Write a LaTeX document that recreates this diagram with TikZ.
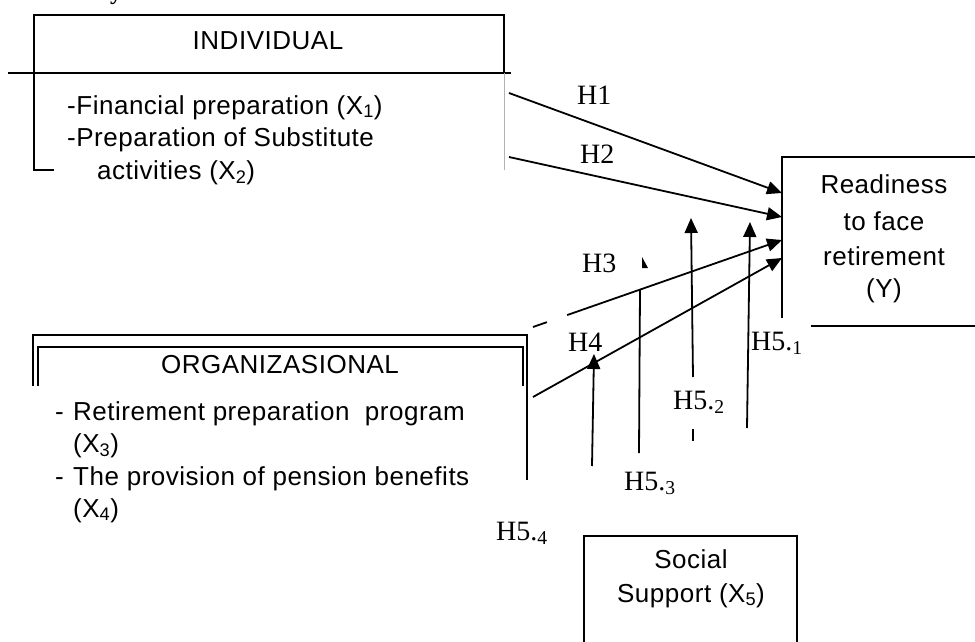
\documentclass[tikz,border=0pt]{standalone}
\usepackage{fontspec}
\setmainfont{Liberation Serif}
\newfontfamily\boxfont[LetterSpace=2]{Liberation Sans}
\usetikzlibrary{arrows.meta,calc}
\tikzset{
  frame/.style   = {line width=2pt, line cap=rect},
  boxtxt/.style  = {font=\boxfont\fontsize{26}{30}\selectfont, inner sep=0pt, anchor=base west},
  boxhead/.style = {font=\boxfont\fontsize{26}{30}\selectfont, inner sep=0pt, anchor=base},
  hyp/.style     = {font=\fontsize{28}{32}\selectfont, inner sep=0pt, anchor=base west},
  link/.style    = {-{Triangle[length=15pt,width=13pt]}, line width=1.8pt},
  plain/.style   = {line width=1.8pt},
}

\begin{document}
\begin{tikzpicture}[x=1pt, y=-1pt]
  \useasboundingbox (0,0) rectangle (975,642);
  \node[inner sep=0pt, anchor=base, font=\bfseries\fontsize{24}{28}\selectfont] (frag) at (116,0) {y};
  \draw[frame] (53,170) -- (34,170) -- (34,15) -- (504,15) -- (504,73);
  \draw[frame] (9,73) -- (510,73);
  \draw[gray!60, line width=0.8pt] (504,73) -- (504,170);
  \node[boxhead] (indhead) at (268,50) {INDIVIDUAL};
  \node[boxtxt] (ind1) at (67,114) {-Financial preparation (X\textsubscript{1})};
  \node[boxtxt] (ind2) at (67,146) {-Preparation of Substitute};
  \node[boxtxt] (ind3) at (97,179) {activities (X\textsubscript{2})};
  \draw[frame] (33,385) -- (33,335) -- (527,335) -- (527,479);
  \draw[frame] (38,385) -- (38,347) -- (523,347) -- (523,385);
  \node[boxhead] (orghead) at (280,373) {ORGANIZASIONAL};
  \node[boxtxt] (org1) at (55,420) {\makebox[18pt][l]{-}Retirement preparation\ \ program};
  \node[boxtxt] (org2) at (73,452) {(X\textsubscript{3})};
  \node[boxtxt] (org3) at (55,485) {\makebox[18pt][l]{-}The provision of pension benefits};
  \node[boxtxt] (org4) at (73,517) {(X\textsubscript{4})};
  \draw[frame] (975,157) -- (782,157) -- (782,317);
  \draw[frame] (812,326) -- (975,326);
  \node[boxhead] (y1) at (884,193) {Readiness};
  \node[boxhead] (y2) at (884,230) {to face};
  \node[boxhead] (y3) at (884,265) {retirement};
  \node[boxhead] (y4) at (884,297) {(Y)};
  \draw[frame] (584,642) -- (584,536) -- (797,536) -- (797,642);
  \node[boxhead] (soc1) at (691,568) {Social};
  \node[boxhead] (soc2) at (691,602) {Support (X\textsubscript{5})};
  \coordinate (h1a) at (509,93);  \coordinate (h1b) at (782,193);
  \coordinate (h2a) at (509,157); \coordinate (h2b) at (782,217);
  \coordinate (h3a) at (533,327); \coordinate (h3b) at (782,240);
  \coordinate (h4a) at (533,397); \coordinate (h4b) at (782,258);
  \draw[link] (h1a) -- (h1b);
  \draw[link] (h2a) -- (h2b);
  \draw[plain] (h3a) -- ($(h3a)!0.056!(h3b)$);
  \draw[link] ($(h3a)!0.137!(h3b)$) -- (h3b);
  \draw[link] (h4a) -- (h4b);
  \coordinate (m1a) at (747,428); \coordinate (m1b) at (750,222);
  \coordinate (m2a) at (693,377); \coordinate (m2b) at (691,218);
  \coordinate (m2c) at (693,429); \coordinate (m2d) at (693,441);
  \coordinate (m3a) at (639,453); \coordinate (m3b) at (640,290);
  \coordinate (m4a) at (592,466); \coordinate (m4b) at (594,354);
  \draw[link] (m1a) -- (m1b);
  \draw[link] (m2a) -- (m2b);
  \draw[plain] (m2c) -- (m2d);
  \draw[plain] (m3a) -- (m3b);
  \draw[link] (m4a) -- (m4b);
  \fill (642,257) -- (642,268) -- (648,268) -- cycle;
  \node[hyp] (lh1) at (577,104) {H1};
  \node[hyp] (lh2) at (580,163) {H2};
  \node[hyp] (lh3) at (582,272) {H3};
  \node[hyp] (lh4) at (568,351) {H4};
  \node[hyp] (lh51) at (751,350) {H5.\textsubscript{1}};
  \node[hyp] (lh52) at (673,409) {H5.\textsubscript{2}};
  \node[hyp] (lh53) at (624,490) {H5.\textsubscript{3}};
  \node[hyp] (lh54) at (496,540) {H5.\textsubscript{4}};
\end{tikzpicture}
\end{document}
